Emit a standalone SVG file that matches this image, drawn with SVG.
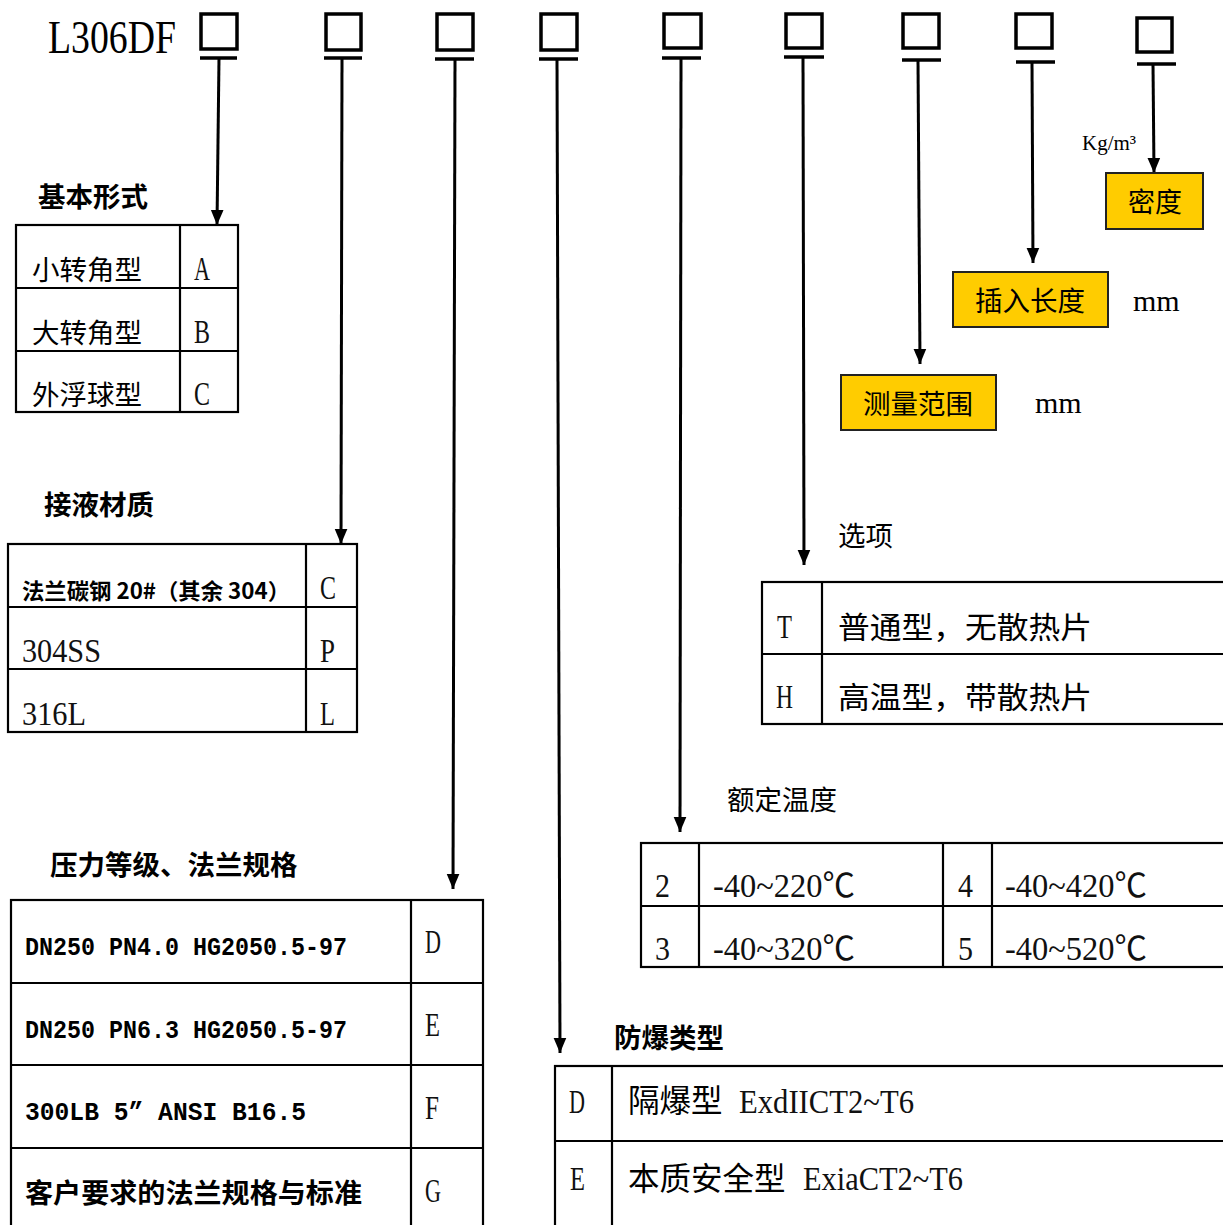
<svg xmlns="http://www.w3.org/2000/svg" width="1223" height="1225" viewBox="0 0 1223 1225">
<defs>
<style>
.bg{fill:#fff}
.box{fill:none;stroke:#000;stroke-width:3.5}
.tee{stroke:#000;stroke-width:3.5}
.tbl{fill:none;stroke:#000;stroke-width:2.2}
.conn{stroke:#000;stroke-width:3;fill:none}
.y{fill:#FFCC00;stroke:#222;stroke-width:2}
.t{font-family:"Liberation Serif","Noto Sans CJK SC",serif;fill:#000}
.s{font-family:"Liberation Serif","Noto Sans CJK SC",serif;fill:#111;font-size:33px}
.c{font-family:"Noto Sans CJK SC","Liberation Sans",sans-serif;fill:#000}
.cb{font-family:"Noto Sans CJK SC","Liberation Sans",sans-serif;font-weight:bold;fill:#000}
.mb{font-family:"Liberation Mono","Noto Sans CJK SC",monospace;font-weight:bold;fill:#000}
</style>
<marker id="ahd" markerUnits="userSpaceOnUse" markerWidth="16" markerHeight="20" viewBox="0 0 20 16" refX="19" refY="8" orient="auto">
<path d="M0,0 L19,8 L0,16 Z" fill="#000"/>
</marker>
</defs>
<rect class="bg" x="0" y="0" width="1223" height="1225"/>

<g id="title">
<text class="t" x="48" y="53" font-size="46" textLength="128" lengthAdjust="spacingAndGlyphs">L306DF</text>
</g>

<g id="slot1"><rect class="box" x="201" y="14" width="36" height="35"/><line class="tee" x1="200" y1="58" x2="237" y2="58"/></g>
<g id="slot2"><rect class="box" x="326" y="14" width="35" height="36"/><line class="tee" x1="324" y1="58" x2="362" y2="58"/></g>
<g id="slot3"><rect class="box" x="437" y="14" width="36" height="36"/><line class="tee" x1="435" y1="59" x2="474" y2="59"/></g>
<g id="slot4"><rect class="box" x="541" y="14" width="36" height="36"/><line class="tee" x1="539" y1="59" x2="578" y2="59"/></g>
<g id="slot5"><rect class="box" x="664" y="14" width="37" height="34"/><line class="tee" x1="662" y1="58" x2="701" y2="58"/></g>
<g id="slot6"><rect class="box" x="786" y="14" width="36" height="34"/><line class="tee" x1="784" y1="57" x2="824" y2="57"/></g>
<g id="slot7"><rect class="box" x="903" y="14" width="36" height="34"/><line class="tee" x1="902" y1="60" x2="941" y2="60"/></g>
<g id="slot8"><rect class="box" x="1016" y="14" width="36" height="34"/><line class="tee" x1="1016" y1="62" x2="1055" y2="62"/></g>
<g id="slot9"><rect class="box" x="1137" y="18" width="35" height="34"/><line class="tee" x1="1137" y1="64" x2="1176" y2="64"/></g>

<g id="connectors">
<line class="conn" x1="219" y1="58" x2="217" y2="225" marker-end="url(#ahd)"/>
<line class="conn" x1="342" y1="58" x2="341" y2="544" marker-end="url(#ahd)"/>
<line class="conn" x1="455" y1="59" x2="453" y2="889" marker-end="url(#ahd)"/>
<line class="conn" x1="557" y1="59" x2="560" y2="1053" marker-end="url(#ahd)"/>
<line class="conn" x1="681" y1="58" x2="680" y2="832" marker-end="url(#ahd)"/>
<line class="conn" x1="803" y1="57" x2="804" y2="565" marker-end="url(#ahd)"/>
<line class="conn" x1="918" y1="60" x2="920" y2="364" marker-end="url(#ahd)"/>
<line class="conn" x1="1032" y1="62" x2="1033" y2="263" marker-end="url(#ahd)"/>
<line class="conn" x1="1153" y1="64" x2="1154" y2="173" marker-end="url(#ahd)"/>
</g>

<g id="basic-form">
<text class="cb" x="38" y="207" font-size="27.5">基本形式</text>
<rect class="tbl" x="16" y="225" width="222" height="187"/>
<line class="tbl" x1="16" y1="288" x2="238" y2="288"/>
<line class="tbl" x1="16" y1="351" x2="238" y2="351"/>
<line class="tbl" x1="180" y1="225" x2="180" y2="412"/>
<text class="c" x="32" y="280" font-size="27.5">小转角型</text>
<text class="s" x="194" y="280" textLength="16" lengthAdjust="spacingAndGlyphs">A</text>
<text class="c" x="32" y="343" font-size="27.5">大转角型</text>
<text class="s" x="194" y="343" textLength="16" lengthAdjust="spacingAndGlyphs">B</text>
<text class="c" x="32" y="405" font-size="27.5">外浮球型</text>
<text class="s" x="194" y="405" textLength="16" lengthAdjust="spacingAndGlyphs">C</text>
</g>

<g id="material">
<text class="cb" x="44" y="515" font-size="27.5">接液材质</text>
<rect class="tbl" x="8" y="544" width="349" height="188"/>
<line class="tbl" x1="8" y1="607" x2="357" y2="607"/>
<line class="tbl" x1="8" y1="669" x2="357" y2="669"/>
<line class="tbl" x1="306" y1="544" x2="306" y2="732"/>
<text class="cb" x="22" y="599" font-size="22" textLength="268" lengthAdjust="spacingAndGlyphs">法兰碳钢 20#（其余 304）</text>
<text class="s" x="320" y="599" textLength="16" lengthAdjust="spacingAndGlyphs">C</text>
<text class="s" x="22" y="662" textLength="79" lengthAdjust="spacingAndGlyphs">304SS</text>
<text class="s" x="320" y="662" textLength="15" lengthAdjust="spacingAndGlyphs">P</text>
<text class="s" x="22" y="725" textLength="64" lengthAdjust="spacingAndGlyphs">316L</text>
<text class="s" x="320" y="725" textLength="15" lengthAdjust="spacingAndGlyphs">L</text>
</g>

<g id="pressure">
<text class="cb" x="50" y="875" font-size="27.5">压力等级、法兰规格</text>
<rect class="tbl" x="11" y="900" width="472" height="330"/>
<line class="tbl" x1="11" y1="983" x2="483" y2="983"/>
<line class="tbl" x1="11" y1="1065" x2="483" y2="1065"/>
<line class="tbl" x1="11" y1="1148" x2="483" y2="1148"/>
<line class="tbl" x1="411" y1="900" x2="411" y2="1225"/>
<text class="mb" x="25" y="955" font-size="25" textLength="322" lengthAdjust="spacingAndGlyphs">DN250 PN4.0 HG2050.5-97</text>
<text class="s" x="425" y="953" textLength="16" lengthAdjust="spacingAndGlyphs">D</text>
<text class="mb" x="25" y="1038" font-size="25" textLength="322" lengthAdjust="spacingAndGlyphs">DN250 PN6.3 HG2050.5-97</text>
<text class="s" x="425" y="1036" textLength="15" lengthAdjust="spacingAndGlyphs">E</text>
<text class="mb" x="25" y="1120" font-size="25" textLength="281" lengthAdjust="spacingAndGlyphs">300LB 5” ANSI B16.5</text>
<text class="s" x="425" y="1119" textLength="14" lengthAdjust="spacingAndGlyphs">F</text>
<text class="cb" x="25" y="1203" font-size="27" textLength="337" lengthAdjust="spacingAndGlyphs">客户要求的法兰规格与标准</text>
<text class="s" x="425" y="1202" textLength="16" lengthAdjust="spacingAndGlyphs">G</text>
</g>

<g id="density">
<text class="t" x="1082" y="150" font-size="21">Kg/m³</text>
<rect class="y" x="1106" y="173" width="97" height="56"/>
<text class="c" x="1155" y="212" font-size="27" text-anchor="middle">密度</text>
</g>

<g id="insert-length">
<rect class="y" x="953" y="272" width="155" height="55"/>
<text class="c" x="1030" y="311" font-size="27.5" text-anchor="middle">插入长度</text>
<text class="t" x="1133" y="311" font-size="30">mm</text>
</g>

<g id="range">
<rect class="y" x="841" y="375" width="155" height="55"/>
<text class="c" x="918" y="414" font-size="27.5" text-anchor="middle">测量范围</text>
<text class="t" x="1035" y="413" font-size="30">mm</text>
</g>

<g id="options">
<text class="c" x="838" y="546" font-size="27.5">选项</text>
<rect class="tbl" x="762" y="582" width="470" height="142"/>
<line class="tbl" x1="762" y1="654" x2="1223" y2="654"/>
<line class="tbl" x1="822" y1="582" x2="822" y2="724"/>
<text class="s" x="777" y="638" textLength="15" lengthAdjust="spacingAndGlyphs">T</text>
<text class="c" x="838" y="638" font-size="30" textLength="254" lengthAdjust="spacingAndGlyphs">普通型，无散热片</text>
<text class="s" x="776" y="708" textLength="17" lengthAdjust="spacingAndGlyphs">H</text>
<text class="c" x="838" y="708" font-size="30" textLength="254" lengthAdjust="spacingAndGlyphs">高温型，带散热片</text>
</g>

<g id="temperature">
<text class="c" x="727" y="810" font-size="27.5">额定温度</text>
<rect class="tbl" x="641" y="843" width="590" height="124"/>
<line class="tbl" x1="641" y1="906" x2="1223" y2="906"/>
<line class="tbl" x1="699" y1="843" x2="699" y2="967"/>
<line class="tbl" x1="943" y1="843" x2="943" y2="967"/>
<line class="tbl" x1="992" y1="843" x2="992" y2="967"/>
<text class="s" x="655" y="897" textLength="15" lengthAdjust="spacingAndGlyphs">2</text>
<text class="s" x="713" y="897" textLength="142" lengthAdjust="spacingAndGlyphs">-40~220℃</text>
<text class="s" x="958" y="897" textLength="15" lengthAdjust="spacingAndGlyphs">4</text>
<text class="s" x="1005" y="897" textLength="142" lengthAdjust="spacingAndGlyphs">-40~420℃</text>
<text class="s" x="655" y="960" textLength="15" lengthAdjust="spacingAndGlyphs">3</text>
<text class="s" x="713" y="960" textLength="142" lengthAdjust="spacingAndGlyphs">-40~320℃</text>
<text class="s" x="958" y="960" textLength="15" lengthAdjust="spacingAndGlyphs">5</text>
<text class="s" x="1005" y="960" textLength="142" lengthAdjust="spacingAndGlyphs">-40~520℃</text>
</g>

<g id="explosion">
<text class="cb" x="614" y="1048" font-size="27.5">防爆类型</text>
<rect class="tbl" x="555" y="1066" width="680" height="165"/>
<line class="tbl" x1="555" y1="1141" x2="1223" y2="1141"/>
<line class="tbl" x1="612" y1="1066" x2="612" y2="1225"/>
<text class="s" x="569" y="1113" textLength="16" lengthAdjust="spacingAndGlyphs">D</text>
<text class="c" x="628" y="1112" font-size="31.5">隔爆型</text>
<text class="s" x="739" y="1113" textLength="175" lengthAdjust="spacingAndGlyphs">ExdIICT2~T6</text>
<text class="s" x="570" y="1190" textLength="15" lengthAdjust="spacingAndGlyphs">E</text>
<text class="c" x="628" y="1190" font-size="31.5">本质安全型</text>
<text class="s" x="803" y="1190" textLength="160" lengthAdjust="spacingAndGlyphs">ExiaCT2~T6</text>
</g>
</svg>
